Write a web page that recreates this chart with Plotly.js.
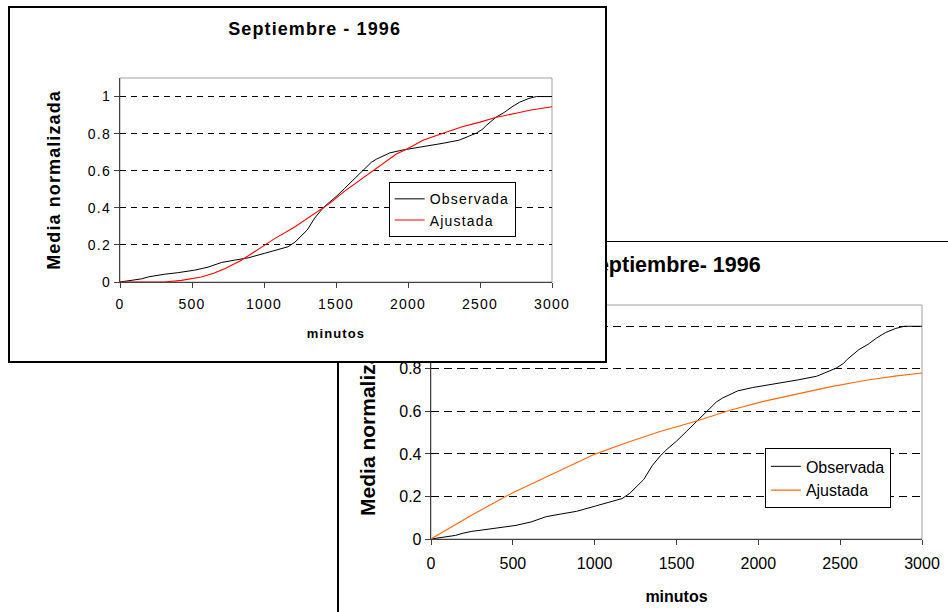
<!DOCTYPE html>
<html>
<head>
<meta charset="utf-8">
<script src="https://cdn.plot.ly/plotly-3.0.1.min.js"></script>
<style>
html,body{margin:0;padding:0;width:948px;height:612px;overflow:hidden;background:#fff;}
#c2{position:absolute;left:337px;top:241px;width:640px;height:400px;border-left:2px solid #000;border-top:1px solid #000;background:#fff;z-index:1;}
#c1{position:absolute;left:8px;top:6px;width:595px;height:353px;border:2px solid #000;background:#fff;z-index:2;}
text[style*="font-size: 14px"]{letter-spacing:1.2px;}
text[style*="font-size: 18px"]{letter-spacing:1.1px;}
text[style*="font-size: 13px"]{letter-spacing:1.1px;}
</style>
</head>
<body>
<div id="c2"></div>
<div id="c1"></div>
<script>
// ---- data ----
const chartTitle1 = 'Septiembre - 1996';
const chartTitle2 = 'Septiembre- 1996';
const xAxisTitle = 'minutos';
const yAxisTitle = 'Media normalizada';
const seriesNames = ['Observada', 'Ajustada'];

const minutosObs = [0, 50, 100, 150, 200, 250, 310, 400, 519, 611, 704, 797, 889, 1005, 1100, 1167, 1215, 1260, 1300, 1352, 1400, 1445, 1500, 1560, 1623, 1688, 1745, 1780, 1847, 1873, 1965, 2031, 2104, 2180, 2243, 2356, 2420, 2475, 2520, 2544, 2614, 2670, 2723, 2776, 2840, 2891, 3000];
const observada = [0, 0.005, 0.01, 0.017, 0.028, 0.036, 0.042, 0.05, 0.064, 0.08, 0.105, 0.118, 0.13, 0.155, 0.175, 0.19, 0.215, 0.25, 0.28, 0.345, 0.39, 0.424, 0.46, 0.505, 0.553, 0.604, 0.645, 0.662, 0.688, 0.696, 0.712, 0.72, 0.73, 0.74, 0.748, 0.765, 0.785, 0.803, 0.825, 0.845, 0.89, 0.915, 0.945, 0.97, 0.99, 1.0, 1.0];

const minutosAj1 = [0, 310, 426, 565, 650, 727, 843, 935, 1074, 1213, 1352, 1456, 1560, 1688, 1800, 1919, 2000, 2104, 2243, 2382, 2500, 2614, 2750, 2845, 3000];
const ajustada1 = [0, 0, 0.009, 0.027, 0.047, 0.072, 0.117, 0.162, 0.234, 0.297, 0.37, 0.424, 0.49, 0.56, 0.62, 0.69, 0.72, 0.764, 0.802, 0.838, 0.862, 0.888, 0.91, 0.926, 0.945];

const minutosAj2 = [0, 250, 503, 750, 1002, 1216, 1400, 1623, 1827, 2031, 2250, 2438, 2650, 2845, 3000];
const ajustada2 = [0, 0.113, 0.219, 0.31, 0.399, 0.458, 0.505, 0.555, 0.605, 0.647, 0.685, 0.715, 0.745, 0.767, 0.78];

const xTicks = [0, 500, 1000, 1500, 2000, 2500, 3000];
const yTicks = [0, 0.2, 0.4, 0.6, 0.8, 1];

// ---- drawing ----
const FAM = 'Liberation Sans, Arial, sans-serif';

function buildChart(divId, opt) {
  const traces = [
    {x: minutosObs, y: observada, name: seriesNames[0], type: 'scatter', mode: 'lines',
     line: {color: '#000000', width: 1}},
    {x: opt.fitX, y: opt.fitY, name: seriesNames[1], type: 'scatter', mode: 'lines',
     line: {color: opt.fitColor, width: 1.1}}
  ];
  const axisCommon = {
    showline: true, linecolor: '#404040', linewidth: 1.3,
    ticks: 'outside', ticklen: 5, tickcolor: '#404040', tickwidth: 1,
    zeroline: false, fixedrange: true
  };
  const layout = {
    width: opt.w, height: opt.h,
    margin: opt.margin,
    paper_bgcolor: '#ffffff', plot_bgcolor: '#ffffff',
    font: {family: FAM, color: '#000000', size: opt.tick},
    title: {text: opt.title, font: {family: FAM, size: opt.titleSize, weight: 700, color: '#000'},
            x: opt.titleX, xref: opt.titleXref, xanchor: 'center', y: opt.titleY, yref: 'container', yanchor: 'middle'},
    xaxis: Object.assign({}, axisCommon, {
      range: [0, 3000], tickvals: xTicks, showgrid: false, ticklabelstandoff: opt.xLabStand,
      tickfont: {family: FAM, size: opt.tick, color: '#000'},
      title: {text: xAxisTitle, font: {family: FAM, size: opt.xTitleSize, weight: 700, color: '#000'}, standoff: opt.xStand}
    }),
    yaxis: Object.assign({}, axisCommon, {
      range: [0, 1.1], tickvals: yTicks, showgrid: true, gridcolor: '#000000', gridwidth: 1, griddash: opt.dash,
      tickfont: {family: FAM, size: opt.tick, color: '#000'},
      title: {text: yAxisTitle, font: {family: FAM, size: opt.yTitleSize, weight: 700, color: '#000'}, standoff: opt.yStand}
    }),
    shapes: [{type: 'rect', xref: 'paper', yref: 'paper', x0: 0, x1: 1, y0: 0, y1: 1,
              line: {color: '#a0a0a0', width: 1}, layer: 'below'}],
    showlegend: true,
    legend: {x: opt.legX, y: opt.legY, xanchor: 'left', yanchor: 'top',
             bordercolor: '#000', borderwidth: 1, bgcolor: '#ffffff',
             font: {family: FAM, size: opt.legSize, color: '#000'},
             traceorder: 'normal'}
  };
  Plotly.newPlot(divId, traces, layout, {staticPlot: true, displayModeBar: false});
}

buildChart('c2', {
  w: 640, h: 400, margin: {l: 92, r: 57, t: 63, b: 103, pad: 0},
  fitX: minutosAj2, fitY: ajustada2, fitColor: '#ff6a10',
  title: chartTitle2, titleSize: 21.5, titleX: 0.49, titleXref: 'paper', titleY: 0.945,
  tick: 16, xTitleSize: 16, yTitleSize: 21, xStand: 20, yStand: 18, xLabStand: 4,
  dash: '8px,5px', legX: 0.680, legY: 0.387, legSize: 16
});

buildChart('c1', {
  w: 595, h: 353, margin: {l: 110, r: 53, t: 70, b: 79, pad: 0},
  fitX: minutosAj1, fitY: ajustada1, fitColor: '#ff0000',
  title: chartTitle1, titleSize: 18, titleX: 0.512, titleXref: 'container', titleY: 0.942,
  tick: 14, xTitleSize: 13, yTitleSize: 18, xStand: 17, yStand: 22, xLabStand: 4,
  dash: '6px,5px', legX: 0.622, legY: 0.489, legSize: 14
});
</script>
</body>
</html>
